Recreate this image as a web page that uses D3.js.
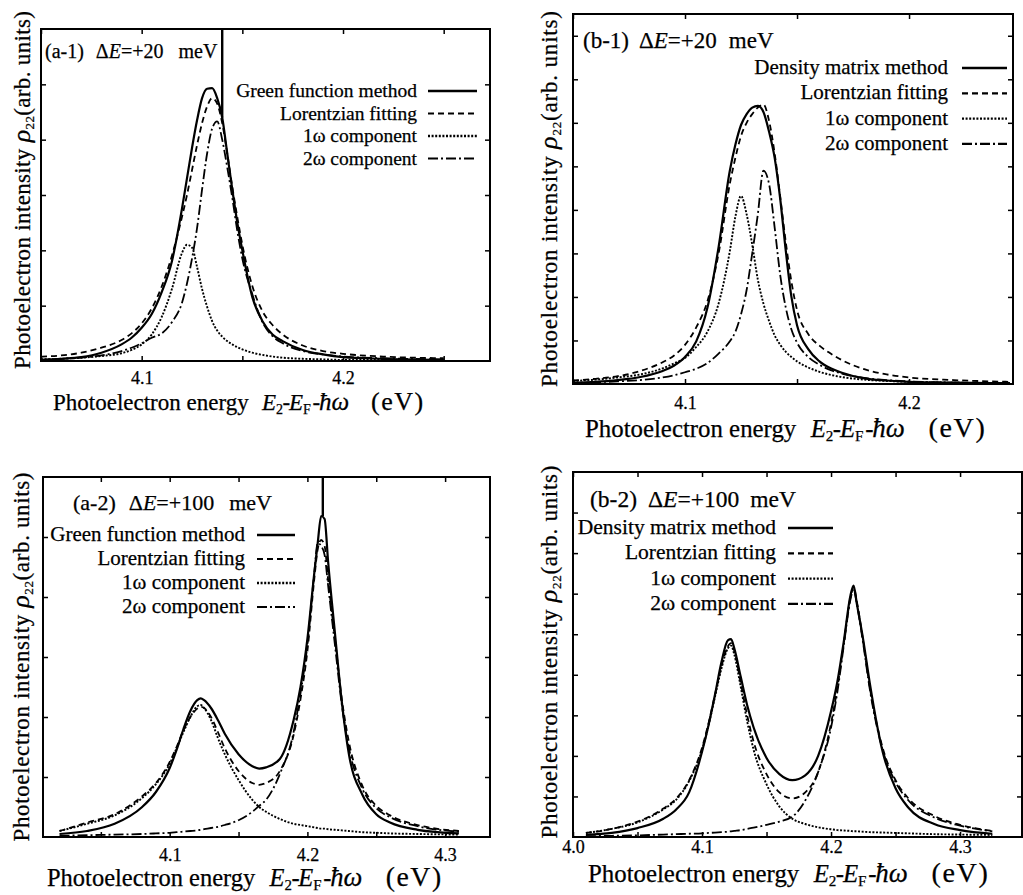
<!DOCTYPE html>
<html>
<head>
<meta charset="utf-8">
<script src="https://cdn.jsdelivr.net/npm/d3@7"></script>
<style>
  body { margin: 0; background: #fff; }
  svg text { fill: #000; stroke: #000; stroke-width: 0.25px; white-space: pre; }
</style>
</head>
<body>
<svg id="fig" width="1023" height="895"></svg>
<script>
// Values (arbitrary intensity units).

// (a-1) Green function, dE = +20 meV
var a1Energy  = [4.05, 4.06, 4.07, 4.08, 4.09, 4.095, 4.10, 4.105, 4.11, 4.115, 4.12, 4.1225, 4.125, 4.1275, 4.13, 4.1325, 4.135, 4.1375, 4.14, 4.1425, 4.145, 4.1475, 4.15, 4.155, 4.16, 4.165, 4.17, 4.18, 4.19, 4.20, 4.22, 4.25];
var a1Main    = [0.02, 0.04, 0.07, 0.15, 0.30, 0.42, 0.60, 0.85, 1.25, 1.80, 2.75, 3.30, 3.85, 4.35, 4.75, 4.92, 4.93, 4.75, 4.40, 3.75, 3.10, 2.50, 2.00, 1.15, 0.72, 0.48, 0.36, 0.20, 0.12, 0.07, 0.04, 0.02];
var a1Lorentz = [0.08, 0.10, 0.15, 0.24, 0.38, 0.50, 0.68, 0.95, 1.35, 1.90, 2.60, 3.00, 3.45, 3.90, 4.30, 4.60, 4.75, 4.65, 4.30, 3.75, 3.15, 2.60, 2.10, 1.35, 0.90, 0.65, 0.48, 0.28, 0.18, 0.13, 0.08, 0.05];
var a1OneW    = [0.03, 0.04, 0.06, 0.09, 0.14, 0.20, 0.30, 0.48, 0.80, 1.30, 1.95, 2.10, 2.05, 1.70, 1.30, 0.98, 0.72, 0.55, 0.44, 0.36, 0.30, 0.25, 0.21, 0.15, 0.11, 0.08, 0.06, 0.04, 0.03, 0.02, 0.02, 0.01];
var a1TwoW    = [0.02, 0.04, 0.06, 0.10, 0.18, 0.24, 0.32, 0.42, 0.50, 0.70, 1.05, 1.40, 1.85, 2.40, 3.10, 3.75, 4.20, 4.33, 4.00, 3.50, 2.95, 2.35, 1.85, 1.20, 0.70, 0.45, 0.32, 0.18, 0.12, 0.08, 0.05, 0.03];
var a1Spike   = [4.14, 4.40];   // energy, value where the vertical spike leaves the curve

// (b-1) density matrix, dE = +20 meV
var b1Energy  = [4.05, 4.06, 4.07, 4.08, 4.09, 4.095, 4.10, 4.105, 4.11, 4.115, 4.12, 4.1225, 4.125, 4.1275, 4.13, 4.1325, 4.135, 4.1375, 4.14, 4.1425, 4.145, 4.1475, 4.15, 4.155, 4.16, 4.165, 4.17, 4.18, 4.19, 4.20, 4.22, 4.245];
var b1Main    = [0.03, 0.05, 0.09, 0.16, 0.30, 0.42, 0.62, 0.98, 1.75, 3.15, 4.90, 5.50, 5.95, 6.20, 6.35, 6.39, 6.25, 5.80, 5.20, 4.25, 3.05, 2.00, 1.35, 0.80, 0.52, 0.36, 0.26, 0.13, 0.08, 0.05, 0.03, 0.02];
var b1Lorentz = [0.08, 0.12, 0.18, 0.30, 0.50, 0.65, 0.90, 1.30, 1.90, 3.00, 4.60, 5.20, 5.70, 6.00, 6.20, 6.35, 6.42, 6.05, 5.30, 4.30, 3.25, 2.35, 1.70, 1.15, 0.88, 0.70, 0.55, 0.34, 0.22, 0.15, 0.09, 0.05];
var b1OneW    = [0.07, 0.10, 0.15, 0.22, 0.36, 0.47, 0.60, 0.85, 1.20, 1.85, 3.05, 3.85, 4.32, 3.90, 3.20, 2.40, 1.85, 1.45, 1.12, 0.90, 0.74, 0.62, 0.52, 0.38, 0.28, 0.21, 0.16, 0.10, 0.07, 0.05, 0.03, 0.02];
var b1TwoW    = [0.02, 0.04, 0.06, 0.09, 0.15, 0.20, 0.27, 0.35, 0.48, 0.70, 0.98, 1.20, 1.60, 2.16, 3.00, 3.90, 4.90, 4.60, 3.60, 2.50, 1.75, 1.25, 0.95, 0.62, 0.44, 0.32, 0.24, 0.14, 0.09, 0.06, 0.03, 0.02];

// (a-2) Green function, dE = +100 meV
var a2Energy  = [4.02, 4.04, 4.06, 4.08, 4.09, 4.10, 4.105, 4.11, 4.115, 4.12, 4.1225, 4.125, 4.13, 4.135, 4.14, 4.15, 4.16, 4.165, 4.17, 4.18, 4.19, 4.195, 4.20, 4.205, 4.2075, 4.21, 4.2125, 4.215, 4.22, 4.225, 4.23, 4.24, 4.25, 4.26, 4.28, 4.31];
var a2Main    = [0.05, 0.10, 0.22, 0.50, 0.75, 1.15, 1.45, 1.80, 2.10, 2.28, 2.31, 2.28, 2.15, 1.95, 1.72, 1.38, 1.18, 1.14, 1.16, 1.30, 1.95, 2.50, 3.30, 4.40, 4.90, 5.35, 5.30, 4.60, 3.40, 2.25, 1.40, 0.70, 0.38, 0.24, 0.12, 0.06];
var a2Lorentz = [0.10, 0.24, 0.38, 0.68, 0.90, 1.25, 1.50, 1.78, 2.00, 2.14, 2.17, 2.15, 2.00, 1.75, 1.48, 1.10, 0.90, 0.87, 0.90, 1.10, 1.70, 2.30, 3.10, 4.30, 4.80, 4.95, 4.85, 4.30, 3.30, 2.30, 1.60, 0.85, 0.52, 0.36, 0.20, 0.10];
var a2OneW    = [0.10, 0.22, 0.36, 0.65, 0.88, 1.22, 1.48, 1.75, 2.00, 2.18, 2.20, 2.15, 1.95, 1.65, 1.38, 0.95, 0.62, 0.50, 0.42, 0.30, 0.22, 0.20, 0.18, 0.16, 0.15, 0.14, 0.14, 0.13, 0.12, 0.11, 0.10, 0.08, 0.07, 0.06, 0.05, 0.04];
var a2TwoW    = [0.02, 0.03, 0.04, 0.05, 0.06, 0.07, 0.08, 0.09, 0.10, 0.11, 0.12, 0.13, 0.15, 0.17, 0.20, 0.28, 0.42, 0.52, 0.62, 1.05, 1.75, 2.40, 3.20, 4.40, 4.90, 4.85, 4.70, 4.20, 3.20, 2.20, 1.50, 0.80, 0.48, 0.33, 0.18, 0.09];
var a2Spike   = [4.2112, 5.35];

// (b-2) density matrix, dE = +100 meV
var b2Energy  = [4.01, 4.03, 4.05, 4.07, 4.08, 4.09, 4.10, 4.105, 4.11, 4.115, 4.12, 4.1225, 4.125, 4.13, 4.135, 4.14, 4.15, 4.16, 4.17, 4.18, 4.19, 4.20, 4.205, 4.21, 4.215, 4.2175, 4.22, 4.225, 4.23, 4.24, 4.25, 4.26, 4.28, 4.30, 4.325];
var b2Main    = [0.05, 0.10, 0.22, 0.45, 0.68, 1.10, 2.10, 2.75, 3.50, 4.30, 4.85, 4.88, 4.65, 3.95, 3.25, 2.70, 1.95, 1.55, 1.40, 1.52, 2.00, 3.10, 3.85, 4.85, 5.95, 6.20, 5.75, 4.85, 3.80, 2.10, 1.20, 0.72, 0.32, 0.17, 0.08];
var b2Lorentz = [0.10, 0.20, 0.38, 0.70, 0.95, 1.40, 2.20, 2.80, 3.50, 4.20, 4.70, 4.78, 4.60, 3.80, 3.00, 2.35, 1.55, 1.10, 0.95, 1.10, 1.60, 2.80, 3.70, 4.80, 5.90, 6.15, 5.80, 4.80, 3.70, 2.20, 1.40, 0.95, 0.52, 0.30, 0.15];
var b2OneW    = [0.10, 0.20, 0.36, 0.68, 0.92, 1.38, 2.15, 2.75, 3.45, 4.15, 4.65, 4.72, 4.50, 3.70, 2.85, 2.15, 1.30, 0.75, 0.45, 0.32, 0.24, 0.19, 0.17, 0.16, 0.15, 0.14, 0.14, 0.13, 0.12, 0.11, 0.10, 0.09, 0.07, 0.06, 0.05];
var b2TwoW    = [0.02, 0.03, 0.04, 0.06, 0.07, 0.08, 0.09, 0.10, 0.11, 0.12, 0.13, 0.14, 0.15, 0.17, 0.20, 0.23, 0.30, 0.38, 0.50, 0.90, 1.60, 2.70, 3.60, 4.75, 5.85, 6.10, 5.75, 4.75, 3.65, 2.15, 1.35, 0.90, 0.48, 0.28, 0.14];

// tick values
var xTicksA1 = [4.05, 4.1, 4.15, 4.2, 4.25],  xLabelsA1 = [4.1, 4.2];
var xTicksB1 = [4.05, 4.1, 4.15, 4.2],        xLabelsB1 = [4.1, 4.2];
var xTicksA2 = [4.05, 4.1, 4.15, 4.2, 4.25, 4.3], xLabelsA2 = [4.1, 4.2, 4.3];
var xTicksB2 = [4.0, 4.05, 4.1, 4.15, 4.2, 4.25, 4.3], xLabelsB2 = [4.0, 4.1, 4.2, 4.3];
var yTicksA = [1, 2, 3, 4, 5];
var yTicksB1 = [1, 2, 3, 4, 5, 6, 7, 8];
var yTicksB2 = [1, 2, 3, 4, 5, 6, 7, 8];

var legendA = ["Green function method", "Lorentzian fitting", "1\u03c9 component", "2\u03c9 component"];
var legendB = ["Density matrix method", "Lorentzian fitting", "1\u03c9 component", "2\u03c9 component"];

// line styles: main, Lorentzian, 1w, 2w
var styles = [
    { w: 2.2, dash: null },
    { w: 1.8, dash: "6,4" },
    { w: 1.9, dash: "2,1.6" },
    { w: 1.8, dash: "10,3,2,3" }
];

// pieces of the energy axis title, offsets from its left end (a-1 scale)
var xTitleParts = [
    { t: "Photoelectron energy", at: 0, fs: 23 },
    { t: "E", at: 209, fs: 23, it: true },
    { t: "2", at: 223, fs: 14, dy: 4 },
    { t: "-", at: 229.5, fs: 23 },
    { t: "E", at: 236, fs: 23, it: true },
    { t: "F", at: 250, fs: 14, dy: 4 },
    { t: "-", at: 259.5, fs: 23 },
    { t: "\u0127\u03c9", at: 266, fs: 25, it: true },
    { t: "(eV)", at: 318, fs: 26, ls: 1.5 }
];

var FONT = "'Liberation Serif', 'DejaVu Serif', 'Times New Roman', serif";

var svg = d3.select("#fig").attr("font-family", FONT);

function txt(g, x, y, size) {
    return g.append("text").attr("x", x).attr("y", y)
        .attr("font-size", size).style("font-family", FONT);
}

function panel(c) {
    var g = svg.append("g");
    var x = d3.scaleLinear().domain(c.xDomain).range([c.box[0], c.box[2]]);
    var y = d3.scaleLinear().domain(c.yDomain).range([c.box[3], c.box[1]]);
    var w = c.box[2] - c.box[0], h = c.box[3] - c.box[1];

    g.append("clipPath").attr("id", "clip-" + c.id)
        .append("rect").attr("x", c.box[0]).attr("y", c.box[1]).attr("width", w).attr("height", h);

    // ticks pointing inward on all four sides
    var fmt = function (d) {
        return c.xLabels.some(function (v) { return Math.abs(v - d) < 1e-9; }) ? d.toFixed(1) : "";
    };
    var bottom = g.append("g").attr("transform", "translate(0," + c.box[3] + ")")
        .call(d3.axisBottom(x).tickValues(c.xTicks).tickSizeInner(-5).tickSizeOuter(0)
            .tickPadding(c.labelPad).tickFormat(fmt));
    g.append("g").attr("transform", "translate(0," + c.box[1] + ")")
        .call(d3.axisTop(x).tickValues(c.xTicks).tickSizeInner(-5).tickSizeOuter(0).tickFormat(""));
    g.append("g").attr("transform", "translate(" + c.box[0] + ",0)")
        .call(d3.axisLeft(y).tickValues(c.yTicks).tickSizeInner(-5).tickSizeOuter(0).tickFormat(""));
    g.append("g").attr("transform", "translate(" + c.box[2] + ",0)")
        .call(d3.axisRight(y).tickValues(c.yTicks).tickSizeInner(-5).tickSizeOuter(0).tickFormat(""));
    g.selectAll(".domain").remove();
    g.selectAll(".tick line").attr("stroke", "#000").attr("stroke-width", 1.5);
    g.selectAll("g").attr("font-family", FONT);
    bottom.selectAll("text").attr("font-size", 18).style("font-family", FONT);

    // curves
    var line = d3.line()
        .x(function (d) { return x(d[0]); })
        .y(function (d) { return y(d[1]); })
        .curve(d3.curveMonotoneX);
    var plot = g.append("g").attr("clip-path", "url(#clip-" + c.id + ")");
    c.series.forEach(function (vals, i) {
        var pts = c.energy.map(function (e, k) { return [e, vals[k]]; });
        plot.append("path").datum(pts)
            .attr("d", line)
            .attr("fill", "none").attr("stroke", "#000")
            .attr("stroke-width", styles[i].w)
            .attr("stroke-dasharray", styles[i].dash);
    });
    if (c.spike) {
        plot.append("line")
            .attr("x1", x(c.spike[0])).attr("x2", x(c.spike[0]))
            .attr("y1", y(c.spike[1])).attr("y2", y(c.yDomain[1]))
            .attr("stroke", "#000").attr("stroke-width", 2.4);
    }

    // frame
    g.append("rect").attr("x", c.box[0]).attr("y", c.box[1]).attr("width", w).attr("height", h)
        .attr("fill", "none").attr("stroke", "#000").attr("stroke-width", 2);

    // panel label:  (a-1)  dE=+20  meV
    var tag = txt(g, c.tag.x, c.tag.y, c.tag.size);
    tag.append("tspan").text("(" + c.id + ")");
    tag.append("tspan").attr("dx", c.tag.gaps[0]).text("\u0394");
    tag.append("tspan").attr("font-style", "italic").text("E");
    tag.append("tspan").text("=" + c.dE);
    tag.append("tspan").attr("dx", c.tag.gaps[1]).text("meV");

    // legend
    c.legend.names.forEach(function (name, i) {
        var yy = c.legend.y + i * c.legend.step;
        txt(g, c.legend.textRight, yy + 6, c.legend.size)
            .attr("text-anchor", "end").text(name);
        g.append("line").attr("x1", c.legend.x0).attr("x2", c.legend.x1)
            .attr("y1", yy).attr("y2", yy)
            .attr("stroke", "#000").attr("stroke-width", styles[i].w + 0.4)
            .attr("stroke-dasharray", styles[i].dash);
    });

    // energy axis title
    var k = c.xTitle.k;
    xTitleParts.forEach(function (p) {
        var t = txt(g, c.xTitle.x + p.at * k, c.xTitle.y + (p.dy || 0) * k, p.fs * k).text(p.t);
        if (p.it) t.attr("font-style", "italic");
        if (p.ls) t.attr("letter-spacing", p.ls * k);
    });

    // intensity axis title
    var yt = g.append("g").attr("transform", "translate(" + c.yTitle.x + "," + c.yTitle.y + ") rotate(-90)");
    var t = txt(yt, 0, 0, 23).attr("text-anchor", "middle")
        .attr("textLength", c.yTitle.len).attr("lengthAdjust", "spacing");
    t.append("tspan").text("Photoelectron intensity ");
    t.append("tspan").attr("font-style", "italic").attr("font-size", 26).text("\u03c1");
    t.append("tspan").attr("font-size", 13).attr("dy", 4).text("22");
    t.append("tspan").attr("dy", -4).text("(arb. units)");
}

panel({
    id: "a-1", dE: "+20", box: [41, 29, 490, 361],
    xDomain: [4.05, 4.273], yDomain: [0, 6],
    xTicks: xTicksA1, xLabels: xLabelsA1, yTicks: yTicksA, labelPad: 10,
    energy: a1Energy, series: [a1Main, a1Lorentz, a1OneW, a1TwoW], spike: a1Spike,
    tag: { x: 45, y: 58, size: 20, gaps: [12, 15] },
    legend: { names: legendA, textRight: 417, x0: 428, x1: 477, y: 91, step: 22.5, size: 19.5 },
    xTitle: { x: 53, y: 410, k: 1 }, yTitle: { x: 30, y: 190, len: 358 }
});
panel({
    id: "b-1", dE: "+20", box: [573, 14, 1013, 384],
    xDomain: [4.05, 4.2464], yDomain: [0, 8.5],
    xTicks: xTicksB1, xLabels: xLabelsB1, yTicks: yTicksB1, labelPad: 12,
    energy: b1Energy, series: [b1Main, b1Lorentz, b1OneW, b1TwoW],
    tag: { x: 583, y: 48, size: 23, gaps: [10, 12] },
    legend: { names: legendB, textRight: 948, x0: 962, x1: 1007, y: 68, step: 25.3, size: 21 },
    xTitle: { x: 585, y: 437, k: 1.08 }, yTitle: { x: 557, y: 199, len: 376 }
});
panel({
    id: "a-2", dE: "+100", box: [43, 477, 490, 837],
    xDomain: [4.008, 4.3326], yDomain: [0, 6],
    xTicks: xTicksA2, xLabels: xLabelsA2, yTicks: yTicksA, labelPad: 11,
    energy: a2Energy, series: [a2Main, a2Lorentz, a2OneW, a2TwoW], spike: a2Spike,
    tag: { x: 73, y: 510, size: 22, gaps: [13, 15] },
    legend: { names: legendA, textRight: 245, x0: 257, x1: 295, y: 535, step: 24, size: 21 },
    xTitle: { x: 47, y: 886, k: 1.065 }, yTitle: { x: 29, y: 657, len: 369 }
});
panel({
    id: "b-2", dE: "+100", box: [573, 472, 1022, 837],
    xDomain: [4.0, 4.348], yDomain: [0, 9],
    xTicks: xTicksB2, xLabels: xLabelsB2, yTicks: yTicksB2, labelPad: 3,
    energy: b2Energy, series: [b2Main, b2Lorentz, b2OneW, b2TwoW],
    tag: { x: 590, y: 507, size: 23.5, gaps: [11, 11] },
    legend: { names: legendB, textRight: 776, x0: 788, x1: 833, y: 528, step: 25.3, size: 21.5 },
    xTitle: { x: 588, y: 882, k: 1.08 }, yTitle: { x: 557, y: 652, len: 373 }
});
</script>
</body>
</html>
